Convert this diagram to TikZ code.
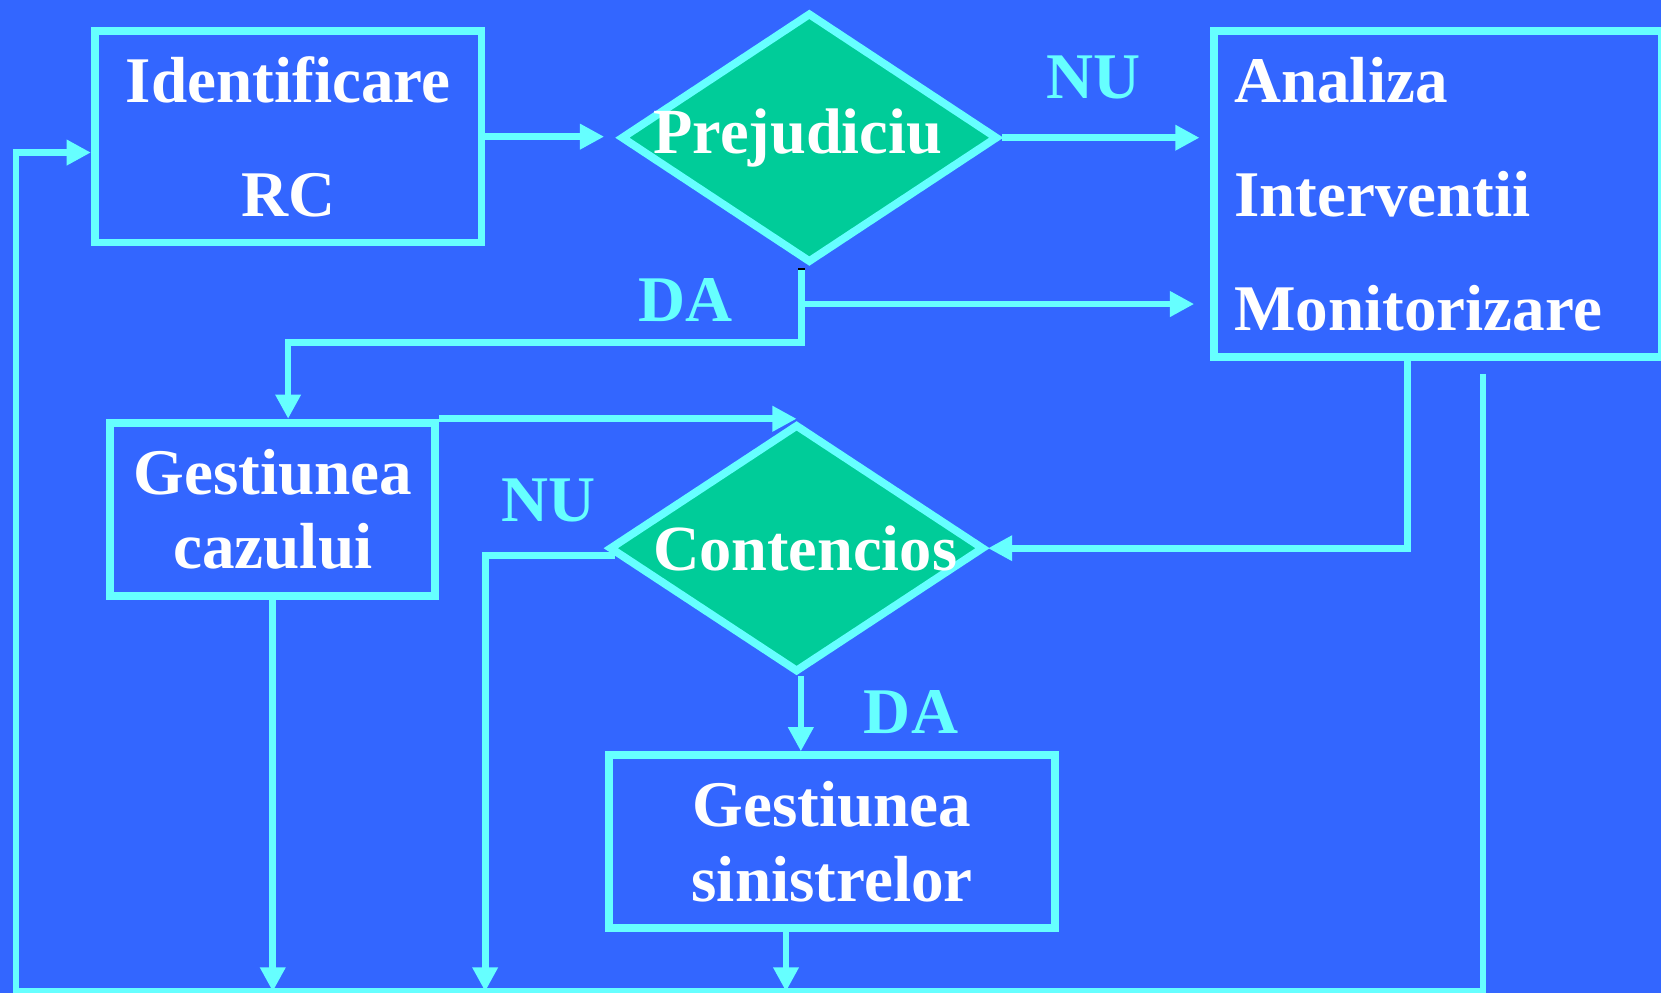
\documentclass[tikz,border=0pt]{standalone}
\usepackage{fontspec}
\setmainfont{Liberation Serif}
\usepackage{tikz}
\usetikzlibrary{shapes.geometric,arrows.meta}
\definecolor{bgblue}{RGB}{51,102,255}
\definecolor{linecyan}{RGB}{102,255,255}
\definecolor{decgreen}{RGB}{0,204,153}

\begin{document}
\begin{tikzpicture}[
    >={Triangle[length=6.5pt,width=6.5pt]},
    block/.style={
        draw=linecyan,
        rectangle,
        line width=2.1pt,
        text=white,
        align=center,
        font=\fontsize{17.5pt}{20pt}\selectfont\bfseries
    },
    decision/.style={
        draw=linecyan,
        fill=decgreen,
        diamond,
        aspect=1.5,
        inner sep=0pt,
        line width=2.1pt,
        text=white,
        font=\fontsize{17.3pt}{20pt}\selectfont\bfseries
    },
    answer/.style={
        text=linecyan,
        font=\fontsize{17.5pt}{20pt}\selectfont\bfseries
    },
    conn/.style={draw=linecyan, line width=1.8pt}
]

\useasboundingbox (0,0) rectangle (15.68,9.37);
\fill [bgblue] (0,0) rectangle (15.68,9.37);

% Nodes
\node [block, minimum width=3.65cm, minimum height=2cm,
    font=\fontsize{17.5pt}{30.7pt}\selectfont\bfseries] (idrc) at (2.72,8.08) {Identificare\\RC};
\node [decision, minimum width=3.56cm, minimum height=2.36cm] (prej) at (7.64,8.07) {\hspace*{-0.22cm}Prejudiciu};
\node [block, align=left, text width=3.85cm, inner xsep=0.19cm,
    minimum width=4.23cm, minimum height=3.08cm,
    font=\fontsize{17.5pt}{30.6pt}\selectfont\bfseries] (analiza) at (13.575,7.54)
    {Analiza\\Interventii\\Monitorizare};
\node [block, minimum width=3.07cm, minimum height=1.64cm] (gestcaz) at (2.575,4.56) {Gestiunea\\cazului};
\node [decision, minimum width=3.54cm, minimum height=2.34cm] (cont) at (7.52,4.195) {Contencios\hspace*{-0.16cm}};
\node [block, minimum width=4.21cm, minimum height=1.63cm] (gestsin) at (7.855,1.425) {Gestiunea\\sinistrelor};

\node [answer] (nu1) at (10.32,8.64) {NU};
\node [answer] (da1) at (6.47,6.54) {DA};
\node [answer] (nu2) at (5.18,4.65) {NU};
\node [answer] (da2) at (8.60,2.65) {DA};

\coordinate (fork) at (7.565,6.82);
\coordinate (fmid) at (7.565,6.50);
\coordinate (rtop) at (14.00,5.84);
\coordinate (base) at (0.15,0.01);
\coordinate (nudown) at (4.58,0.01);

% Arrows
\draw [conn, ->, shorten >=1.2mm] (idrc.east) -- (idrc.east -| prej.west);
\draw [conn, ->, shorten >=1mm] (prej.east) -- (prej.east -| analiza.west);

\fill (7.53,6.79) rectangle (7.60,6.84);
\draw [conn, ->] (fork) -- ++(0,-0.68) -| ([xshift=1.45mm]gestcaz.north);
\draw [conn, ->, shorten >=1.5mm] (fmid) -- (fmid -| analiza.west);

\draw [conn, ->] (gestcaz.north east) -- (gestcaz.north east -| cont.north);
\draw [conn, ->] ([xshift=-2.9mm]analiza.south) |- (cont.east);
\draw [conn, ->] ([xshift=0.4mm]cont.south) -- ([xshift=0.4mm]cont.south |- gestsin.north);
\draw [conn, ->] ([xshift=0.9mm,yshift=-0.7mm]cont.west) -| (nudown);

\draw [conn, ->] (gestcaz.south) -- (gestcaz.south |- base);
\draw [conn, ->] ([xshift=-4.35mm]gestsin.south) -- ([xshift=-4.35mm]gestsin.south |- base);

% Feedback loop
\draw [conn, ->] (rtop) |- (base) |- ([yshift=-1.5mm]idrc.west);

\end{tikzpicture}
\end{document}
